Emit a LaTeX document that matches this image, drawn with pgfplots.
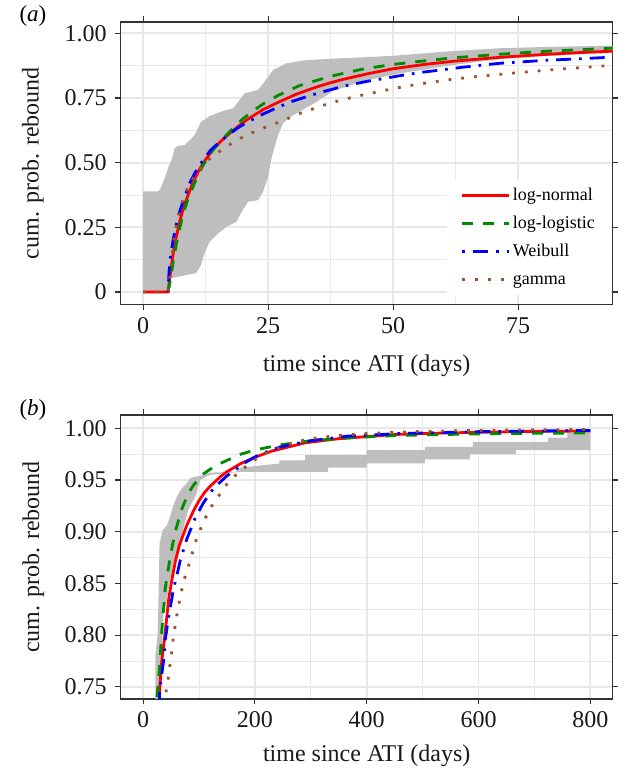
\documentclass[border=0pt]{standalone}
\usepackage{fontspec}
\setmainfont{Liberation Serif}
\usepackage{pgfplots}
\pgfplotsset{compat=1.18}

\definecolor{lnRed}{RGB}{255,0,0}
\definecolor{llGreen}{RGB}{0,139,0}
\definecolor{wbBlue}{RGB}{0,0,255}
\definecolor{gmBrown}{RGB}{160,82,45}
\definecolor{bandGray}{RGB}{190,190,190}
\definecolor{gridGray}{RGB}{232,232,232}
\definecolor{frameGray}{RGB}{51,51,51}

\newcommand{\tl}[1]{\textrm{#1}}

\pgfplotsset{
  panel/.style={
    scale only axis, width=492pt,
    axis line style={frameGray, line width=1.1pt},
    tick align=outside, major tick length=5.5pt, minor tick length=0pt,
    every tick/.style={frameGray, line width=1.1pt},
    minor tick num=1,
    xmajorgrids, ymajorgrids, xminorgrids, yminorgrids,
    major grid style={gridGray, line width=1.7pt},
    minor grid style={gridGray, line width=0.9pt},
    ticklabel style={font=\rmfamily\fontsize{24}{28}\selectfont, text=black!90},
    yticklabel style={xshift=-5pt},
    xticklabel style={yshift=-4pt},
    legend image code/.code={\draw[##1] (0pt,0pt) -- (38pt,0pt); \path (0pt,0pt) -- (47pt,0pt);},
  },
  lnorm/.style={lnRed, line width=2.8pt},
  llog/.style={llGreen, line width=2.8pt, dash pattern=on 11pt off 10pt},
  weib/.style={wbBlue, line width=2.8pt, dash pattern=on 2.6pt off 8pt on 15pt off 8pt},
  gam/.style={gmBrown, line width=2.8pt, dash pattern=on 2.8pt off 10pt},
}

\begin{document}
\begin{tikzpicture}
\path[use as bounding box] (0,0) rectangle (625pt,771pt);

% ---- panel (a)
\begin{axis}[panel,
  at={(120.7pt,466.7pt)}, anchor=south west, height=282.3pt,
  xmin=-4.47, xmax=93.9, ymin=-0.0475, ymax=1.0437,
  xtick={0,25,50,75}, xticklabels={\tl{0},\tl{25},\tl{50},\tl{75}},
  ytick={0,0.25,0.5,0.75,1}, yticklabels={\tl{0},\tl{0.25},\tl{0.50},\tl{0.75},\tl{1.00}},
  legend style={at={(rel axis cs:0.663,0.44)}, anchor=north west,
    draw=none, fill=white, font=\fontsize{18}{21}\selectfont,
    inner xsep=14pt, inner ysep=5pt, row sep=7pt,
    nodes={inner sep=2pt, text height=13pt, text depth=4pt}},
  legend cell align=left,
]
% confidence band: upper edge left to right, lower edge back
\addplot[fill=bandGray, draw=none, forget plot] coordinates {
 (0,0.389) (3,0.389) (3.5,0.40) (4.5,0.45) (5.2,0.49) (5.7,0.51) (6.3,0.555)
 (7,0.565) (8.3,0.568) (9.5,0.59) (10.3,0.607) (11.6,0.658) (13.3,0.68)
 (15.6,0.697) (18,0.71) (19.2,0.74) (20.3,0.768) (23,0.781) (24.3,0.813)
 (26,0.858) (28.7,0.884) (32,0.895) (36,0.9) (40,0.904) (45,0.908) (50,0.913)
 (56,0.922) (61,0.93) (66,0.936) (71,0.942) (80,0.947) (88,0.95) (94,0.952)
 (94,0.925) (80,0.912) (71.3,0.9) (61,0.875) (51.3,0.845) (44.7,0.818)
 (38,0.778) (34.7,0.735) (32,0.705) (29.3,0.675) (28,0.652) (27,0.607)
 (26.3,0.562) (25.6,0.51) (25,0.446) (24,0.388) (23,0.355) (21,0.349)
 (19.7,0.31) (18.7,0.272) (16.7,0.252) (15,0.226) (13.3,0.194) (12.3,0.15)
 (11.6,0.105) (10.6,0.073) (7.3,0.06) (5.5,0.053) (5.1,0) (0,0)} -- cycle;

\addplot[lnorm] coordinates {
 (0,0) (5,0) (5.2,0.03) (5.5,0.08) (6,0.145) (6.5,0.2) (7.3,0.27) (8,0.32)
 (9,0.375) (10,0.425) (11.3,0.475) (12.5,0.512) (14,0.55) (15.5,0.582)
 (17.3,0.613) (19,0.64) (20.7,0.665) (22.5,0.687) (24,0.705) (26,0.724)
 (28,0.742) (30.7,0.765) (34,0.788) (37.3,0.808) (40,0.822) (45,0.844)
 (50,0.863) (56,0.879) (62,0.892) (71.3,0.907) (80,0.918) (88.9,0.927) (94,0.931)};
\addlegendentry{log-normal}
\addplot[llog] coordinates {
 (5,0) (5.5,0.05) (6,0.115) (6.5,0.17) (7.3,0.245) (8,0.3) (9,0.36)
 (10.6,0.435) (12,0.49) (14,0.55) (17.3,0.62) (20,0.67) (22,0.7) (24,0.727)
 (27,0.76) (31.3,0.798) (37.3,0.833) (44,0.862) (49.7,0.879) (56,0.893)
 (62,0.905) (71.3,0.919) (80,0.93) (88.9,0.938) (94,0.943)};
\addlegendentry{log-logistic}
\addplot[weib] coordinates {
 (5,0) (5.2,0.08) (5.5,0.14) (6,0.2) (6.5,0.25) (7.3,0.31) (8,0.35) (9.3,0.42)
 (10.5,0.465) (12,0.51) (13.5,0.548) (15.3,0.58) (17,0.607) (19,0.635)
 (20.7,0.655) (24,0.688) (27.3,0.717) (30,0.738) (33.3,0.759) (36.7,0.778)
 (40.7,0.798) (44.7,0.814) (48.7,0.827) (51.3,0.836) (56,0.85) (60.7,0.861)
 (64,0.869) (67.3,0.876) (71.3,0.884) (80,0.895) (88.9,0.903) (94,0.908)};
\addlegendentry{Weibull}
\addplot[gam] coordinates {
 (0,0) (5,0) (5.3,0.05) (5.7,0.124) (6,0.175) (6.3,0.225) (7,0.29) (7.7,0.34)
 (8.3,0.38) (9.7,0.43) (11,0.465) (13,0.51) (15.7,0.549) (18,0.578)
 (20.3,0.603) (23,0.626) (25.7,0.646) (28.3,0.665) (31,0.688) (34.3,0.71)
 (37,0.728) (39.7,0.742) (42.3,0.755) (45,0.766) (47.7,0.777) (50.3,0.787)
 (53,0.797) (55.7,0.805) (58.3,0.813) (61,0.82) (63.7,0.826) (66.7,0.833)
 (75,0.848) (83,0.861) (91.5,0.873) (94,0.876)};
\addlegendentry{gamma}
\end{axis}

% ---- panel (b)
\begin{axis}[panel,
  at={(120.7pt,72pt)}, anchor=south west, height=284pt,
  xmin=-40, xmax=840, ymin=0.7382, ymax=1.0129,
  xtick={0,200,400,600,800}, xticklabels={\tl{0},\tl{200},\tl{400},\tl{600},\tl{800}},
  ytick={0.75,0.8,0.85,0.9,0.95,1},
  yticklabels={\tl{0.75},\tl{0.80},\tl{0.85},\tl{0.90},\tl{0.95},\tl{1.00}},
]
\addplot[fill=bandGray, draw=none] coordinates {
 (21.8,0.70) (21.8,0.779) (26,0.80) (27,0.82) (29.5,0.889) (35.5,0.902)
 (42.6,0.906) (48.6,0.915) (53.3,0.924) (60.5,0.934) (69.4,0.942) (78.3,0.947)
 (84.3,0.952) (108,0.955) (113,0.957) (166,0.958) (174,0.962) (244,0.966)
 (244,0.969) (290,0.969) (290,0.974) (400,0.974) (400,0.979) (504,0.979)
 (504,0.982) (590,0.982) (590,0.987) (724,0.987) (724,0.991) (759,0.991)
 (759,0.996) (800,0.996)
 (800,0.979) (667,0.979) (667,0.975) (585,0.975) (585,0.97) (504,0.97)
 (504,0.966) (400,0.966) (400,0.962) (331,0.962) (331,0.958) (174,0.958)
 (120,0.955) (102,0.95) (96,0.937) (81,0.921) (69.4,0.898) (57.5,0.876)
 (48,0.853) (42.6,0.834) (35.5,0.818) (32,0.75) (32,0.70)} -- cycle;

\addplot[lnorm] coordinates {
 (28,0.72) (30,0.75) (33.7,0.776) (38,0.795) (42,0.815) (45.6,0.834) (52,0.855)
 (58,0.872) (65,0.887) (78,0.906) (90,0.92) (100,0.93) (110,0.938) (120,0.944)
 (138,0.953) (150,0.958) (175,0.966) (200,0.972) (230,0.978) (260,0.982)
 (290,0.986) (320,0.988) (350,0.990) (400,0.992) (450,0.994) (500,0.995)
 (600,0.9962) (700,0.997) (800,0.9975)};
\addplot[llog] coordinates {
 (23,0.72) (25,0.74) (29.5,0.769) (33.7,0.805) (39.6,0.845) (48.6,0.876)
 (57.5,0.9) (69.4,0.922) (80,0.936) (90.2,0.945) (108,0.956) (130,0.964)
 (150,0.969) (175,0.975) (200,0.979) (245,0.984) (300,0.988) (375,0.991)
 (450,0.993) (534,0.994) (650,0.995) (800,0.9955)};
\addplot[weib] coordinates {
 (28,0.72) (29.5,0.744) (33.7,0.763) (38,0.78) (39.6,0.795) (45,0.815)
 (54.5,0.845) (59.3,0.855) (66.4,0.872) (78.3,0.893) (93,0.913) (108,0.928)
 (126,0.942) (150,0.954) (180,0.966) (209,0.975) (245,0.982) (300,0.988)
 (366,0.9925) (460,0.995) (600,0.9968) (800,0.998)};
\addplot[gam] coordinates {
 (39,0.72) (41.4,0.747) (45.6,0.76) (48.6,0.773) (51.5,0.785) (54.5,0.80)
 (58.7,0.813) (62.3,0.826) (67.6,0.839) (72.4,0.852) (80.2,0.865) (87.3,0.878)
 (95,0.892) (104,0.904) (113,0.915) (125,0.927) (137,0.936) (151,0.947)
 (168,0.956) (186,0.964) (206,0.972) (227,0.978) (251,0.983) (275,0.987)
 (300,0.99) (346,0.993) (400,0.995) (500,0.997) (600,0.998) (700,0.9985)
 (800,0.999)};
\end{axis}

% labels
\node[anchor=base west, font=\fontsize{23}{27}\selectfont] at (16pt,749.5pt) {(\textit{a})};
\node[anchor=base west, font=\fontsize{23}{27}\selectfont] at (16pt,355.5pt) {(\textit{b})};
\node[anchor=base, font=\fontsize{24}{28}\selectfont, text=black!90] at (366.7pt,399.3pt) {time since ATI (days)};
\node[anchor=base, font=\fontsize{24}{28}\selectfont, text=black!90] at (366.7pt,9.3pt) {time since ATI (days)};
\node[anchor=base, rotate=90, font=\fontsize{24}{28}\selectfont, text=black!90] at (38.7pt,607.8pt) {cum. prob. rebound};
\node[anchor=base, rotate=90, font=\fontsize{24}{28}\selectfont, text=black!90] at (39.2pt,214pt) {cum. prob. rebound};
\end{tikzpicture}
\end{document}
